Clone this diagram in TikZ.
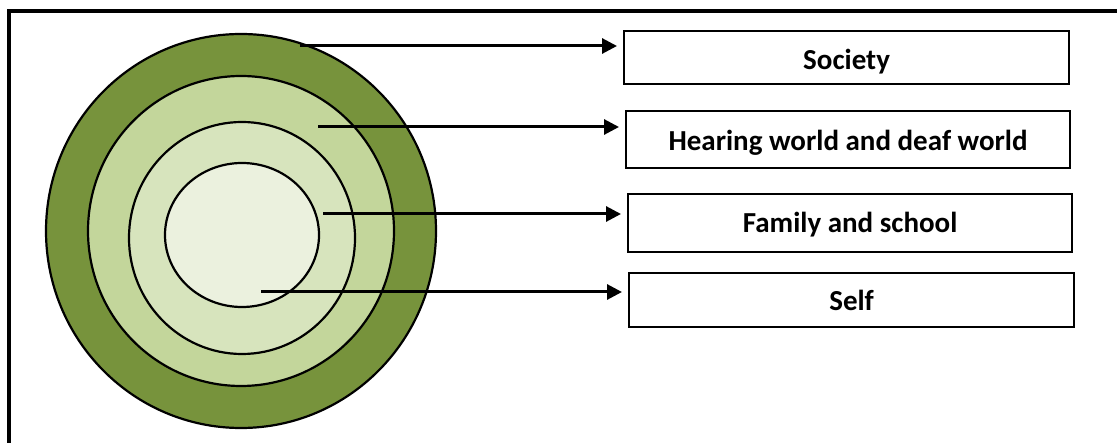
\documentclass[tikz,border=0pt]{standalone}
\usepackage{fontspec}
\setmainfont{Carlito}
\usetikzlibrary{arrows.meta}
\definecolor{ringA}{HTML}{77933C}
\definecolor{ringB}{HTML}{C3D69B}
\definecolor{ringC}{HTML}{D7E4BD}
\definecolor{ringD}{HTML}{EBF1DE}
\newcommand{\lowerby}[2]{\raisebox{-#1}[\height][\depth]{#2}}
\begin{document}
\begin{tikzpicture}[x=1pt,y=-1pt,
  ring/.style={draw=black,line width=2.2pt},
  label box/.style={draw=black,line width=2.2pt,fill=white,anchor=north west,inner sep=0pt,
    font=\fontsize{29}{34}\selectfont\bfseries},
  pointer/.style={line width=3pt,-{Triangle[length=15pt,width=15pt]},shorten >=6pt}]
\useasboundingbox (0,0) rectangle (1117,443);
\draw[line width=3.2pt] (9,443) -- (9,11) -- (1117,11);
% rings
\path[ring,fill=ringA] (241,231) ellipse [x radius=195,y radius=197];
\path[ring,fill=ringB] (241,231) ellipse [x radius=153,y radius=155];
\path[ring,fill=ringC] (242,238) ellipse [x radius=113,y radius=116];
\path[ring,fill=ringD] (242,235) ellipse [x radius=77,y radius=72];
% boxes
\node[label box,minimum width=445pt,minimum height=53pt] (soc) at (623,30) {\lowerby{4pt}{Society}};
\node[label box,minimum width=444pt,minimum height=57pt] (hear) at (625,110) {\lowerby{3pt}{Hearing world and deaf world}};
\node[label box,minimum width=444pt,minimum height=58pt] (fam) at (627,193) {\lowerby{2pt}{Family and school}};
\node[label box,minimum width=445pt,minimum height=54pt] (self) at (628,272) {Self};
% arrow starts
\coordinate (sA) at (300,46);
\coordinate (sB) at (318,127);
\coordinate (sC) at (323,214);
\coordinate (sD) at (261,292);
\draw[pointer] (sA) -- (sA -| soc.west);
\draw[pointer] (sB) -- (sB -| hear.west);
\draw[pointer] (sC) -- (sC -| fam.west);
\draw[pointer] (sD) -- (sD -| self.west);
\end{tikzpicture}
\end{document}
